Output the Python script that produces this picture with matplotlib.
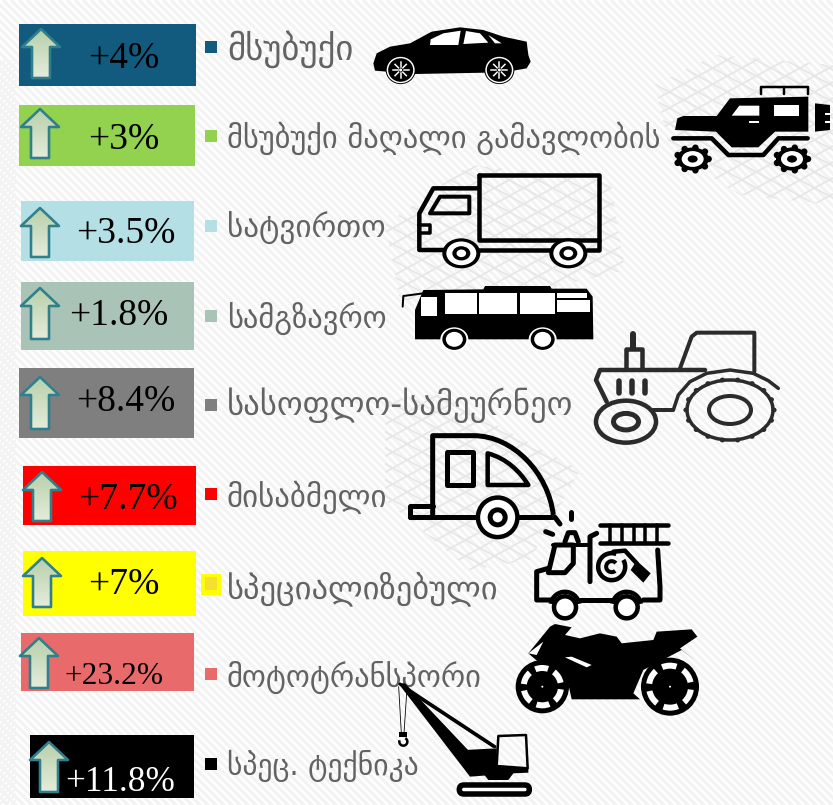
import matplotlib
matplotlib.use("Agg")
import matplotlib.pyplot as plt
import numpy as np
from matplotlib.patches import Rectangle, Polygon, Circle, Ellipse, Wedge, Arc, PathPatch, FancyBboxPatch
from matplotlib.path import Path
from matplotlib.collections import LineCollection

labels = ["მსუბუქი", "მსუბუქი მაღალი გამავლობის", "სატვირთო", "სამგზავრო",
          "სასოფლო-სამეურნეო", "მისაბმელი", "სპეციალიზებული", "მოტოტრანსპორი", "სპეც. ტექნიკა"]
growth = [4, 3, 3.5, 1.8, 8.4, 7.7, 7, 23.2, 11.8]
colors = ["#125a7e", "#92d24f", "#b4dfe5", "#a9c4b6", "#7f7f7f", "#ff0000", "#ffff00", "#e86a6a", "#000000"]

# layout, in pixels of the picture
boxes = [(19, 24, 196, 86), (19, 105, 195, 166), (21, 201, 194, 261), (21, 282, 194, 350),
         (19, 368, 194, 438), (23, 466, 196, 525), (23, 551, 196, 616), (21, 633, 194, 691), (30, 735, 194, 798)]
arrows = [(41, 27, 79), (40, 107, 159), (40, 206, 258), (40, 286, 340), (40, 375, 430),
          (42, 470, 522), (42, 556, 608), (39, 636, 689), (49, 740, 793)]
pct_xy = [(124, 59), (124, 140), (126, 234), (119, 316), (126, 402), (128, 500), (124, 585), (114, 676), (120, 782)]
pct_size = [27, 27, 27, 27, 27, 27, 27, 22.6, 25.4]
label_size = [25, 22, 22.4, 22, 23.6, 22.2, 23.4, 22, 21.3]
label_base = [60, 148, 238, 328, 415, 507, 598, 687, 775]
square_y = [47, 136, 226, 316, 405, 494, 584, 674, 764]

fig = plt.figure(figsize=(8.33, 8.05), dpi=100)
ax = fig.add_axes([0, 0, 1, 1])
ax.set_xlim(0, 833)
ax.set_ylim(805, 0)
ax.axis("off")


def px(w):
    return w * 0.72


def z2(pts):
    return [(360 + x / 3, y / 3) for x, y in pts]


def z4(pts):
    return [(380 + x / 3, 400 + y / 3) for x, y in pts]


def jp(pts):
    return [(640 + x / 3, 50 + y / 3) for x, y in pts]


def tr(pts):
    return [(590 + x / 3, 320 + y / 3) for x, y in pts]


def fill(pts, c="black", z=5):
    ax.add_patch(Polygon(pts, closed=True, fc=c, ec="none", zorder=z))


def line(pts, w=4, c="black", z=5, closed=False):
    ax.add_patch(Polygon(pts, closed=closed, fc="none", ec=c, lw=px(w), zorder=z, joinstyle="round", capstyle="round"))


def disc(x, y, rx, ry=None, c="black", z=5):
    ry = rx if ry is None else ry
    ax.add_patch(Ellipse((x, y), 2 * rx, 2 * ry, fc=c, ec="none", zorder=z))


def ring_wheel(x, y, radii, ratio=1.0, z=5):
    for i, r in enumerate(radii):
        disc(x, y, r, r * ratio, "black" if i % 2 == 0 else "white", z)


def crossing(poly, spacing=16, slope=0.55):
    # faint crossed lines, cut to one region
    segs = []
    for s in np.arange(-900, 1800, spacing):
        segs.append([(0, s), (833, s + 833 * slope)])
        segs.append([(0, s), (833, s - 833 * slope)])
    lc = LineCollection(segs, colors="#e7e7e7", linewidths=px(1.8), zorder=1)
    ax.add_collection(lc)
    lc.set_clip_path(Polygon(poly, closed=True, transform=ax.transData))


# background stripes
segs = [[(s, 0), (s + 805, 805)] for s in np.arange(-805, 833, 8)]
ax.add_collection(LineCollection(segs, colors="#f3f3f3", linewidths=px(3.2), zorder=0))
edge = [[(s, 0), (s - 805, 805)] for s in np.arange(0, 840, 6)]
lc = LineCollection(edge, colors="#f3f3f3", linewidths=px(2), zorder=0)
ax.add_collection(lc)
lc.set_clip_path(Polygon([(0, 60), (16, 60), (16, 805), (0, 805)], closed=True, transform=ax.transData))

for poly in [[(655, 85), (715, 55), (833, 65), (833, 205), (740, 195), (670, 150)],
             [(385, 225), (470, 165), (610, 180), (625, 270), (500, 300), (400, 300)],
             [(385, 400), (440, 395), (580, 470), (530, 560), (470, 570), (385, 500)]]:
    crossing(poly)

# coloured boxes, arrows, values
for (x0, y0, x1, y1), c in zip(boxes, colors):
    ax.add_patch(Rectangle((x0, y0), x1 - x0, y1 - y0, fc=c, ec="none", zorder=2))

grad = np.linspace(0, 1, 64)[:, None, None] * np.array([[[0.19, 0.12, 0.20]]]) + np.array([[[0.71, 0.81, 0.66]]])
for cx, top, bot in arrows:
    hw, sw = 19, 9
    neck = top + 20
    pts = [(cx, top + 2), (cx + hw, neck), (cx + sw, neck), (cx + sw, bot - 1), (cx - sw, bot - 1),
           (cx - sw, neck), (cx - hw, neck)]
    im = ax.imshow(grad, extent=(cx - hw, cx + hw, bot, top), aspect="auto", zorder=3)
    im.set_clip_path(Polygon(pts, closed=True, transform=ax.transData))
    ax.add_patch(Polygon(pts, closed=True, fc="none", ec="#2f7f8d", lw=px(2.6), zorder=4, joinstyle="round"))
ax.set_xlim(0, 833)
ax.set_ylim(805, 0)

for g, (x, y), fs, c in zip(growth, pct_xy, pct_size, colors):
    ax.text(x, y, "+%g%%" % g, fontsize=fs, family="Liberation Serif", ha="center", va="center",
            color="white" if c == "#000000" else "black", zorder=6)

# legend squares and labels
for name, c, fs, base, sy in zip(labels, colors, label_size, label_base, square_y):
    if c == "#ffff00":
        ax.add_patch(Rectangle((201, sy - 10), 20, 21, fc="#ffff00", ec="none", zorder=2))
        ax.add_patch(Rectangle((205, sy - 7), 12, 13, fc="#f5e030", ec="none", zorder=3))
    else:
        ax.add_patch(Rectangle((205, sy - 6), 12, 12, fc=c, ec="none", zorder=2))
    ax.text(227, base, name, fontsize=fs, family="DejaVu Sans", color="#636363", ha="left", va="baseline", zorder=4)

# car
fill(z2([(40, 190), (50, 160), (90, 140), (150, 130), (215, 95), (300, 82), (370, 90), (430, 110), (500, 125),
         (505, 165), (512, 185), (500, 205), (460, 212), (380, 218), (165, 222), (80, 215), (45, 212)]))
fill(z2([(210, 135), (212, 118), (250, 100), (302, 92), (295, 135)]), "white")
fill(z2([(310, 132), (318, 93), (360, 100), (385, 128)]), "white")
fill(z2([(385, 105), (425, 130), (405, 130)]), "white")
for zx in (122, 418):
    (x, y), = z2([(zx, 210)])
    ring_wheel(x, y, [15, 14, 12.5], 0.94)
    for a in np.arange(0, 360, 45):
        ax.plot([x + 3 * np.cos(np.radians(a)), x + 8 * np.cos(np.radians(a))],
                [y + 3 * np.sin(np.radians(a)), y + 8 * np.sin(np.radians(a))], color="white", lw=px(1.5), zorder=6)
    disc(x, y, 1.5, c="white", z=6)

# jeep
line(jp([(363, 133), (363, 110), (505, 110), (505, 133)]), 2.5)
line(jp([(432, 110), (432, 133)]), 2.5)
fill(jp([(105, 240), (112, 205), (130, 198), (230, 198), (270, 145), (505, 140), (505, 245), (405, 245),
         (355, 292), (275, 292), (228, 245)]))
fill(jp([(275, 197), (298, 167), (358, 167), (358, 197)]), "white")
fill(jp([(402, 165), (478, 165), (478, 197), (402, 197)]), "white")
fill(jp([(328, 212), (358, 212), (358, 220), (328, 220)]), "white")
fill(jp([(525, 160), (570, 165), (570, 240), (525, 245)]))
for zy in (190, 212):
    fill(jp([(555, zy), (570, zy), (570, zy + 6), (555, zy + 6)]), "white")
line(jp([(100, 265), (215, 265), (265, 315), (370, 315), (415, 265), (503, 265)]), 4.5)
for zx in (158, 456):
    (x, y), = jp([(zx, 327)])
    for a in np.arange(0, 360, 40):
        disc(x + 16 * np.cos(np.radians(a)), y + 11.5 * np.sin(np.radians(a)), 3.2)
    ring_wheel(x, y, [16, 11, 5], 0.72)

# truck
line(z2([(357, 525), (716, 525), (716, 750), (680, 750)]), 4.5)
line(z2([(357, 525), (357, 720), (716, 720)]), 4.5)
line(z2([(357, 565), (220, 565), (178, 640), (178, 750), (255, 750)]), 4.5)
line(z2([(350, 750), (575, 750)]), 4.5)
line(z2([(210, 640), (240, 590), (328, 590), (328, 640)]), 4, closed=True)
line(z2([(178, 675), (210, 675), (210, 698), (178, 698)]), 3.5)
for zx in (304, 625):
    (x, y), = z2([(zx, 760)])
    ring_wheel(x, y, [19, 15, 9, 4.8], 0.79)

# bus
fill(z2([(165, 1018), (165, 930), (190, 870), (370, 868), (375, 858), (570, 858), (575, 866), (680, 866),
         (698, 890), (700, 1018)]))
for a, b, c, d in [(183, 892, 232, 948), (255, 878, 352, 942), (358, 878, 472, 942), (479, 878, 584, 942),
                   (590, 878, 682, 893), (590, 900, 690, 935)]:
    fill(z2([(a, b), (c, b), (c, d), (a, d)]), "white")
line(z2([(128, 920), (130, 888), (190, 880)]), 2)
for zx in (283, 548):
    (x, y), = z2([(zx, 1018)])
    disc(x, y, 14, 12, "white")
    ring_wheel(x, y, [12, 8.5], 0.88)

# tractor
tc = "#2b2b2b"
line(tr([(130, 42), (130, 85)]), 6, tc)
line(tr([(107, 145), (107, 87), (155, 87), (155, 145)]), 4.5, tc)
line(tr([(270, 145), (305, 50), (320, 38), (493, 38), (493, 155)]), 4, tc)
line(tr([(345, 150), (30, 150), (18, 180), (50, 245)]), 4.5, tc)
for zx in (87, 125, 165):
    line(tr([(zx, 182), (zx, 218)]), 5.5, tc)
(fx, fy), = tr([(108, 305)])
ax.add_patch(Ellipse((fx, fy), 60, 42, fc="none", ec=tc, lw=px(4.5), zorder=5))
ax.add_patch(Ellipse((fx, fy), 25, 16.5, fc="none", ec=tc, lw=px(5), zorder=5))
line(tr([(190, 270), (250, 270)]), 4, tc)
(rx, ry), = tr([(420, 270)])
ax.add_patch(Ellipse((rx, ry), 86, 60, fc="none", ec=tc, lw=px(3.5), zorder=5))
ax.add_patch(Ellipse((rx, ry), 42, 28, fc="none", ec=tc, lw=px(4), zorder=5))
for a in np.arange(0, 360, 20):
    disc(rx + 44 * np.cos(np.radians(a)), ry + 30.5 * np.sin(np.radians(a)), 2.6, 2.4, tc)
line(tr([(250, 270), (265, 225), (300, 185), (350, 160), (420, 150), (490, 160), (535, 182), (565, 205)]), 3.5, tc)

# trailer
line(z4([(90, 352), (515, 352)]), 5)
line(z4([(90, 352), (90, 318), (158, 318)]), 5)
ax.add_patch(PathPatch(Path(z4([(158, 352), (158, 107), (280, 107), (400, 107), (505, 220), (520, 345)]),
                            [Path.MOVETO, Path.LINETO, Path.LINETO, Path.CURVE4, Path.CURVE4, Path.CURVE4]),
                       fc="none", ec="black", lw=px(5), zorder=5, joinstyle="round"))
line(z4([(200, 155), (280, 155), (280, 255), (200, 255)]), 5, closed=True)
ax.add_patch(PathPatch(Path(z4([(323, 160), (380, 175), (420, 215), (445, 255), (323, 255), (323, 160)]),
                            [Path.MOVETO, Path.CURVE4, Path.CURVE4, Path.CURVE4, Path.LINETO, Path.CLOSEPOLY]),
                       fc="none", ec="black", lw=px(4.5), zorder=5, joinstyle="round"))
(x, y), = z4([(353, 352)])
ring_wheel(x, y, [22, 17.5, 10, 5])
for seg in [[(525, 352), (540, 372)], [(573, 335), (573, 358)], [(497, 395), (518, 403)]]:
    line(z4(seg), 5)

# fire truck
line(z4([(660, 375), (865, 375)]), 4.5)
line(z4([(660, 428), (865, 428)]), 4.5)
for zx in (690, 725, 762, 795, 830):
    line(z4([(zx, 375), (zx, 428)]), 3.5)
line(z4([(650, 400), (630, 410), (630, 545)]), 5)
line(z4([(525, 435), (505, 518), (555, 518), (580, 490), (580, 435)]), 5, closed=True)
line(z4([(555, 425), (565, 398), (585, 398), (595, 425)]), 5)
line(z4([(520, 435), (625, 435)]), 4)
line(z4([(505, 505), (470, 515), (470, 600), (515, 600)]), 5)
line(z4([(600, 600), (695, 600)]), 5)
line(z4([(790, 600), (840, 600), (840, 560), (833, 450)]), 5)
for zx in (555, 740):
    (x, y), = z4([(zx, 622)])
    ax.add_patch(Circle((x, y), 11, fc="white", ec="black", lw=px(4.5), zorder=5))
    ax.add_patch(Arc((x, y - 1), 29, 29, theta1=190, theta2=350, ec="black", lw=px(4.5), zorder=5))
(x, y), = z4([(695, 500)])
ax.add_patch(Arc((x, y), 27, 27, theta1=-30, theta2=290, ec="black", lw=px(4.5), zorder=5))
ax.add_patch(Arc((x, y), 11, 11, theta1=50, theta2=320, ec="black", lw=px(4), zorder=5))
line(z4([(700, 455), (735, 452), (770, 490)]), 4.5)
fill(z4([(770, 482), (812, 520), (790, 548), (752, 510)]))

# motorbike
fill(z4([(445, 760), (510, 680), (525, 672), (575, 682), (555, 705), (600, 715), (660, 700), (710, 710), (725, 730),
         (820, 720), (830, 695), (935, 688), (952, 710), (900, 745), (945, 782), (905, 750), (790, 810), (760, 880),
         (780, 898), (575, 898), (560, 830), (480, 790)]))
fill(z4([(555, 772), (575, 770), (635, 795), (620, 802)]), "white")
fill(z4([(445, 760), (490, 725), (470, 765)]), "white")
for zx, zr in ((487, 80), (870, 87)):
    (x, y), = z4([(zx, 860)])
    disc(x, y, zr / 3)
    for a in np.arange(0, 360, 60):
        ax.add_patch(Wedge((x, y), zr / 3 - 5, a + 8, a + 48, width=6, fc="white", ec="none", zorder=6))
    disc(x, y, 1, c="white", z=7)

# crane
fill(z4([(55, 850), (75, 850), (335, 1125), (270, 1130)]), z=7)
line(z4([(60, 852), (345, 1040)]), 3, z=7)
line(z4([(120, 895), (340, 1040)]), 2.5, z=7)
line(z4([(56, 860), (64, 1000)]), 0.8, z=7)
line(z4([(80, 880), (72, 1000)]), 0.8, z=7)
fill(z4([(58, 995), (82, 995), (82, 1012), (58, 1012)]), z=7)
ax.add_patch(Arc(z4([(70, 1025)])[0], 8, 8, theta1=-60, theta2=200, ec="black", lw=px(2.5), zorder=7))
fill(z4([(255, 1050), (350, 1045), (350, 1100), (445, 1105), (445, 1118), (400, 1120), (385, 1140), (325, 1140)]), z=7)
line(z4([(355, 1008), (438, 1005), (443, 1105), (350, 1098)]), 2.5, z=7, closed=True)
ax.add_patch(FancyBboxPatch(z4([(238, 1155)])[0], 70, 9, boxstyle="round,pad=0,rounding_size=4.5",
                            fc="white", ec="black", lw=px(5.5), zorder=7))

fig.savefig("out.png", dpi=100)
